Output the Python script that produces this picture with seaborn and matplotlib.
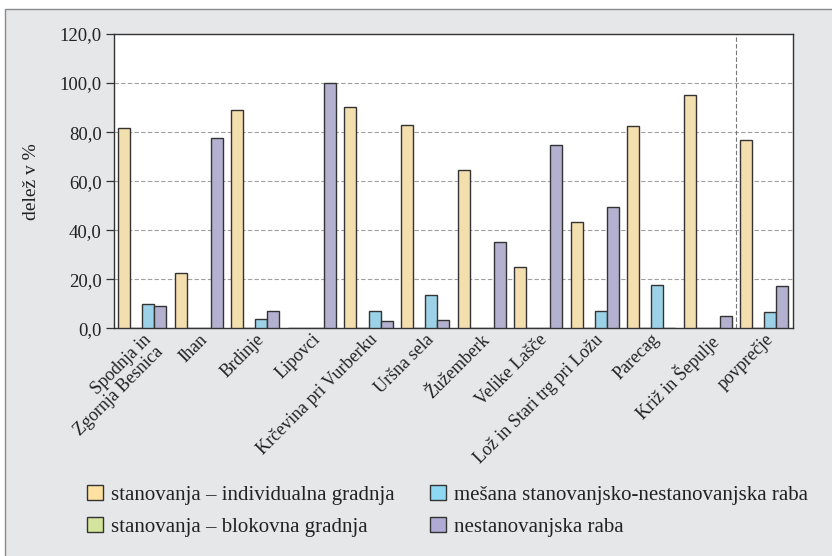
import matplotlib
matplotlib.use("Agg")
import matplotlib.pyplot as plt
from matplotlib.patches import Rectangle
from matplotlib.ticker import FuncFormatter
import seaborn as sns
import pandas as pd

categories = ["Spodnja in\nZgornja Besnica", "Ihan", "Brdinje", "Lipovci",
              "Krčevina pri Vurberku", "Uršna sela", "Žužemberk", "Velike Lašče",
              "Lož in Stari trg pri Ložu", "Parecag", "Križ in Šepulje", "povprečje"]
series = ["stanovanja – individualna gradnja", "stanovanja – blokovna gradnja",
          "mešana stanovanjsko-nestanovanjska raba", "nestanovanjska raba"]
individualna = [81.6, 22.4, 89.1, 0.0, 90.3, 82.9, 64.5, 25.1, 43.3, 82.6, 95.2, 76.7]
blokovna = [0.0] * 12
mesana = [9.8, 0.0, 3.7, 0.0, 6.9, 13.7, 0.0, 0.0, 7.2, 17.6, 0.0, 6.5]
nestanovanjska = [9.0, 77.4, 7.2, 100.0, 3.0, 3.3, 35.3, 74.7, 49.6, 0.0, 4.9, 17.3]
colors = ["#FFE2A2", "#D3E49C", "#8ED8F4", "#B0ABD4"]

rows = []
for s, vals in zip(series, [individualna, blokovna, mesana, nestanovanjska]):
    for c, v in zip(categories, vals):
        rows.append({"kraj": c, "tip": s, "delez": v})
df = pd.DataFrame(rows)

sns.set_style("white")
plt.rcParams["font.family"] = ["Liberation Serif", "DejaVu Serif"]

fig = plt.figure(figsize=(8.32, 5.56), dpi=100)
fig.patch.set_facecolor("white")
bg = Rectangle((5.3 / 832, -0.2), 1.2, 0.2 + 1 - 9 / 556, transform=fig.transFigure,
               facecolor="#E6E7E9", edgecolor="#8a8a8a", linewidth=1.0, zorder=-10)
fig.patches.append(bg)

ax = fig.add_axes([114 / 832, 1 - 328.3 / 556, (792.7 - 114) / 832, (328.3 - 34) / 556])
ax.set_facecolor("white")

sns.barplot(data=df, x="kraj", y="delez", hue="tip", hue_order=series,
            order=categories, palette=colors, width=0.85, edgecolor="#333333",
            linewidth=1.0, ax=ax, legend=False, zorder=3)

ax.set_ylim(0, 120)
ax.set_xlim(-0.5, len(categories) - 0.5)
ax.set_yticks(range(0, 121, 20))
ax.yaxis.set_major_formatter(FuncFormatter(lambda v, p: f"{v:.1f}".replace(".", ",")))
for y in range(20, 120, 20):
    ax.axhline(y, color="#a0a0a0", linestyle=(0, (4, 2)), linewidth=0.8, zorder=1)
ax.axvline(len(categories) - 1.5, color="#777777", linestyle=(0, (4, 2)), linewidth=0.8, zorder=1)

for sp in ax.spines.values():
    sp.set_visible(True)
    sp.set_color("#333333")
    sp.set_linewidth(1.0)

ax.tick_params(axis="y", which="major", length=6, width=0.9, color="#333333",
               labelsize=13.5, left=True, pad=3, labelcolor="#222222")
ax.tick_params(axis="x", length=0, labelsize=13, pad=2, labelcolor="#222222")
ax.set_xticks(range(len(categories)))
ax.set_xticklabels(categories, rotation=45, ha="right", rotation_mode="anchor",
                   linespacing=1.0)
ax.set_xlabel("")
ax.set_ylabel("delež v %", fontsize=14, color="#222222", labelpad=14)

handles = [Rectangle((0, 0), 1, 1, facecolor=c, edgecolor="#333333", linewidth=1.0)
           for c in colors]
fig.legend(handles, series, loc="upper left", bbox_to_anchor=(87 / 832, 1 - 485 / 556),
           ncol=2, frameon=False, fontsize=15, handlelength=0.75, handleheight=0.75,
           handletextpad=0.4, columnspacing=1.7, labelspacing=0.59,
           borderaxespad=0, borderpad=0, labelcolor="#222222")

fig.savefig("out.png", dpi=100)
